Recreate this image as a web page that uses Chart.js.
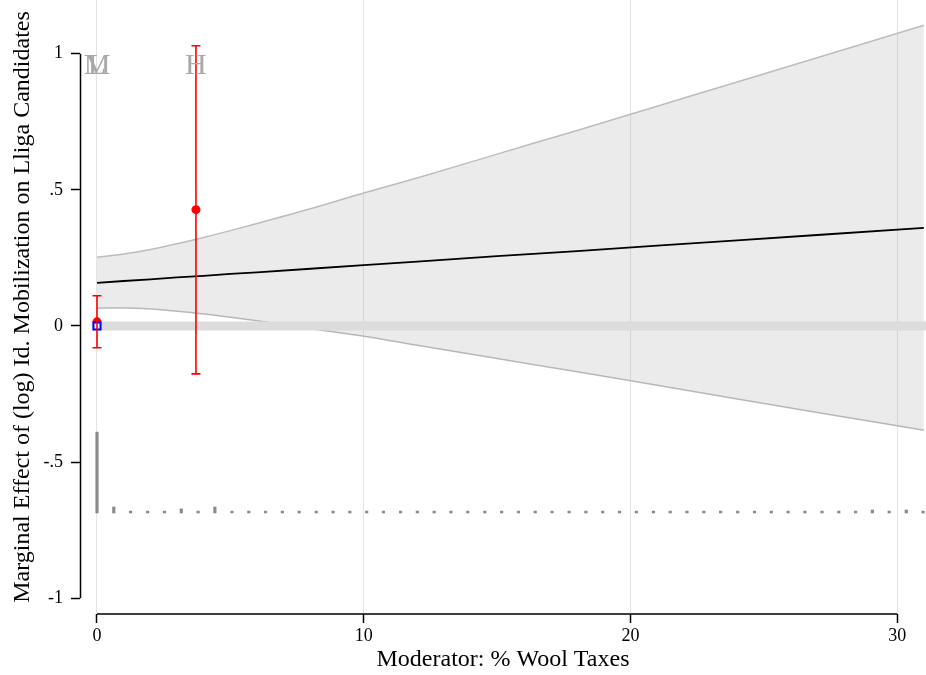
<!DOCTYPE html>
<html>
<head>
<meta charset="utf-8">
<title>Marginal Effect of (log) Id. Mobilization</title>
<script src="https://cdn.jsdelivr.net/npm/chart.js@4.4.1/dist/chart.umd.min.js"></script>
<style>
  html, body { margin: 0; padding: 0; background: #fff; }
  #wrap { width: 926px; height: 675px; }
</style>
</head>
<body>
<div id="wrap"><canvas id="meChart" width="926" height="675"></canvas></div>
<script>
// Linear marginal effect and its 95% band along the moderator
const bandX     = [0, 1, 2, 3, 4, 5, 6, 8, 10, 12, 15, 18, 21, 24, 27, 31];
const effect    = [0.158, 0.165, 0.171, 0.178, 0.184, 0.191, 0.197, 0.210, 0.223, 0.236, 0.256, 0.275, 0.295, 0.314, 0.334, 0.360];
const bandUpper = [0.252, 0.264, 0.281, 0.302, 0.325, 0.350, 0.376, 0.430, 0.488, 0.543, 0.631, 0.718, 0.807, 0.896, 0.985, 1.104];
const bandLower = [0.065, 0.066, 0.062, 0.054, 0.044, 0.032, 0.019, -0.010, -0.038, -0.071, -0.120, -0.168, -0.218, -0.268, -0.318, -0.383];

// Binning estimates with confidence intervals
const binPointX = [0, 3.71];
const binPointY = [0.015, 0.427];
const binCiLow  = [-0.080, -0.176];
const binCiHigh = [0.111, 1.029];
const squareX   = [0];
const squareY   = [0];

// Bin labels at the bin medians
const binLabels = ['L', 'M', 'H'];
const labelX    = [0, 0, 3.71];
const labelY    = 0.955;

// Distribution of the moderator (rug histogram)
const rugX = [0, 0.63, 1.26, 1.90, 2.53, 3.16, 3.79, 4.42, 5.06, 5.69,
              6.32, 6.95, 7.58, 8.22, 8.85, 9.48, 10.11, 10.74, 11.38, 12.01,
              12.64, 13.27, 13.90, 14.54, 15.17, 15.80, 16.43, 17.06, 17.70, 18.33,
              18.96, 19.59, 20.22, 20.86, 21.49, 22.12, 22.75, 23.38, 24.02, 24.65,
              25.28, 25.91, 26.54, 27.18, 27.81, 28.44, 29.07, 29.70, 30.34, 30.97];
const rugTop = [-0.390, -0.665, -0.680, -0.680, -0.680, -0.672, -0.680, -0.665, -0.680, -0.680,
                -0.680, -0.680, -0.680, -0.680, -0.680, -0.680, -0.680, -0.680, -0.680, -0.680,
                -0.680, -0.680, -0.680, -0.680, -0.680, -0.680, -0.680, -0.680, -0.680, -0.680,
                -0.680, -0.680, -0.680, -0.680, -0.680, -0.680, -0.680, -0.680, -0.680, -0.680,
                -0.680, -0.680, -0.680, -0.680, -0.680, -0.680, -0.676, -0.680, -0.676, -0.680];
const rugBase = -0.687;

// Axes
const xTicks = [0, 10, 20, 30];
const yTicks = [-1, -0.5, 0, 0.5, 1];
const yTickLabels = ['-1', '-.5', '0', '.5', '1'];
const zeroLineX = [-0.2, 31.1];

const serif = "'Liberation Serif', 'Times New Roman', Times, serif";

const toPoints = (xs, ys) => xs.map((v, i) => ({ x: v, y: ys[i] }));

// Error bars, bin labels and the truncated axis lines
const overlayPlugin = {
  id: 'overlay',
  afterDatasetsDraw(chart) {
    const { ctx, scales: { x, y } } = chart;
    ctx.save();
    ctx.strokeStyle = '#ff0000';
    ctx.lineWidth = 1.6;
    binPointX.forEach((bx, i) => {
      const px = x.getPixelForValue(bx);
      const top = y.getPixelForValue(binCiHigh[i]);
      const bot = y.getPixelForValue(binCiLow[i]);
      ctx.beginPath();
      ctx.moveTo(px, top); ctx.lineTo(px, bot);
      ctx.moveTo(px - 4.5, top); ctx.lineTo(px + 4.5, top);
      ctx.moveTo(px - 4.5, bot); ctx.lineTo(px + 4.5, bot);
      ctx.stroke();
    });

    ctx.fillStyle = '#a9a9a9';
    ctx.font = '30px ' + serif;
    ctx.textAlign = 'center';
    ctx.textBaseline = 'middle';
    binLabels.forEach((t, i) => {
      ctx.fillText(t, x.getPixelForValue(labelX[i]), y.getPixelForValue(labelY));
    });
    ctx.restore();
  },
  afterDraw(chart) {
    const { ctx, scales: { x, y } } = chart;
    const left = chart.chartArea.left + 0.5;
    const bottom = chart.chartArea.bottom;
    ctx.save();
    ctx.strokeStyle = '#000';
    ctx.lineWidth = 1.5;
    ctx.beginPath();
    ctx.moveTo(left, y.getPixelForValue(yTicks[0]));
    ctx.lineTo(left, y.getPixelForValue(yTicks[yTicks.length - 1]));
    ctx.moveTo(x.getPixelForValue(xTicks[0]), bottom);
    ctx.lineTo(x.getPixelForValue(xTicks[xTicks.length - 1]), bottom);
    ctx.stroke();
    ctx.restore();
  }
};

new Chart(document.getElementById('meChart'), {
  type: 'scatter',
  data: {
    datasets: [
      {
        type: 'scatter',
        data: toPoints(squareX, squareY),
        pointStyle: 'rect',
        pointRadius: 5,
        backgroundColor: '#ffffff',
        borderColor: '#0000ff',
        borderWidth: 2,
        order: 1
      },
      {
        type: 'scatter',
        data: toPoints(binPointX, binPointY),
        pointRadius: 4.5,
        backgroundColor: '#ff0000',
        borderColor: '#ff0000',
        borderWidth: 0,
        order: 2
      },
      {
        type: 'line',
        data: toPoints(bandX, effect),
        borderColor: '#000000',
        borderWidth: 1.8,
        pointRadius: 0,
        fill: false,
        order: 3
      },
      {
        type: 'bar',
        data: rugX.map((v, i) => ({ x: v, y: [rugBase, rugTop[i]] })),
        backgroundColor: '#8a8a8a',
        borderWidth: 0,
        barThickness: 2.5,
        order: 3
      },
      {
        type: 'line',
        data: toPoints(zeroLineX, [0, 0]),
        borderColor: '#dcdcdc',
        borderWidth: 9,
        pointRadius: 0,
        fill: false,
        order: 4
      },
      {
        type: 'line',
        data: toPoints(bandX, bandUpper),
        borderColor: '#bdbdbd',
        borderWidth: 1.5,
        backgroundColor: 'rgba(128, 128, 128, 0.16)',
        pointRadius: 0,
        cubicInterpolationMode: 'monotone',
        fill: '+1',
        order: 6
      },
      {
        type: 'line',
        data: toPoints(bandX, bandLower),
        borderColor: '#bdbdbd',
        borderWidth: 1.5,
        pointRadius: 0,
        cubicInterpolationMode: 'monotone',
        fill: false,
        order: 6
      }
    ]
  },
  options: {
    responsive: false,
    animation: false,
    events: [],
    layout: { padding: 0, autoPadding: false },
    plugins: {
      legend: { display: false },
      tooltip: { enabled: false }
    },
    scales: {
      x: {
        type: 'linear',
        min: -0.637,
        max: 31.08,
        offset: false,
        afterBuildTicks: (s) => { s.ticks = xTicks.map(v => ({ value: v })); },
        afterFit: (s) => { s.height = 61; s.paddingLeft = 0; s.paddingRight = 0; },
        grid: {
          offset: false,
          color: '#e4e4e4',
          lineWidth: 1,
          drawTicks: true,
          tickLength: 9,
          tickColor: '#000',
          tickWidth: 1.5
        },
        border: { display: false },
        ticks: {
          font: { family: serif, size: 18 },
          color: '#000',
          padding: 2,
          maxRotation: 0,
          autoSkip: false
        },
        title: {
          display: true,
          text: 'Moderator: % Wool Taxes',
          font: { family: serif, size: 24 },
          color: '#000',
          padding: { top: 0, bottom: 1 }
        }
      },
      y: {
        type: 'linear',
        min: -1.058,
        max: 1.197,
        afterBuildTicks: (s) => { s.ticks = yTicks.map(v => ({ value: v })); },
        afterFit: (s) => { s.width = 80; s.paddingTop = 0; s.paddingBottom = 0; },
        grid: {
          drawOnChartArea: false,
          drawTicks: true,
          tickLength: 9,
          tickColor: '#000',
          tickWidth: 1.5
        },
        border: { display: false },
        ticks: {
          font: { family: serif, size: 18 },
          color: '#000',
          padding: 8,
          callback: (value, index) => yTickLabels[index]
        },
        title: {
          display: true,
          text: 'Marginal Effect of (log) Id. Mobilization on Lliga Candidates',
          font: { family: serif, size: 24 },
          color: '#000',
          padding: { top: 8, bottom: 0 }
        }
      }
    }
  },
  plugins: [overlayPlugin]
});
</script>
</body>
</html>
